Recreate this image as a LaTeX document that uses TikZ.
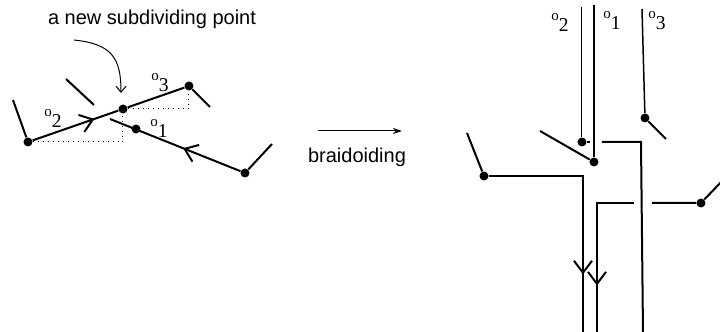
\documentclass[tikz,border=0pt]{standalone}
\usepackage{fontspec}
\setmainfont{Liberation Sans}
\newfontfamily\strandfont{Liberation Serif}
\usetikzlibrary{arrows.meta, decorations.markings}

\newcommand{\olbl}[1]{{\strandfont\raisebox{5.5pt}{\fontsize{7.5}{8}\selectfont o}\fontsize{9.8}{10}\selectfont #1}}

\tikzset{
    dot/.style={circle, fill, inner sep=0pt, minimum size=4.5pt},
    strand/.style={line width=1pt},
    thinstrand/.style={line width=0.5pt},
    guide/.style={dotted, line width=0.5pt},
    lbl/.style={inner sep=0pt},
    barb/.style={postaction={decorate, decoration={markings,
        mark=at position #1 with {\arrow{Straight Barb[length=6pt, width=9pt]}}}}}
}

\begin{document}
\begin{tikzpicture}[x=0.5pt, y=-0.5pt]
    \useasboundingbox (0,0) rectangle (720,332);

    \node[dot] (a) at (28,142) {};
    \node[dot] (p) at (123,109) {};
    \node[dot] (b) at (189,86) {};
    \node[dot] (c) at (136,129) {};
    \node[dot] (d) at (245,173) {};
    \coordinate (a1) at (13,100);
    \coordinate (b1) at (210,107);
    \coordinate (d1) at (272,144);
    \coordinate (u1) at (66,79);
    \coordinate (u2) at (94,105);
    \coordinate (c0) at (110,119);

    \draw[strand] (a1) -- (a);
    \draw[strand, barb=0.72] (a) -- (p);
    \draw[strand] (p) -- (b) -- (b1);
    \draw[strand] (u1) -- (u2);
    \draw[strand, barb=0.44] (d) -- (c0);
    \draw[strand] (d) -- (d1);
    \draw[guide] (a) -- (a -| p) -- (p);
    \draw[guide] (p) -- (p -| b) -- (b);

    \node[lbl] (o2l) at (53,118) {\olbl{2}};
    \node[lbl] (o3l) at (160,83) {\olbl{3}};
    \node[lbl] (o1l) at (159,128) {\olbl{1}};

    \node (note) at (152,19) {a new subdividing point};
    \coordinate (n0) at (74,40);
    \coordinate (n1) at (121,93);
    \draw[line width=0.5pt, -{Straight Barb[length=3pt, width=5pt]}] (n0) .. controls (112,44) and (121,58) .. (n1);

    \coordinate (m0) at (318,131);
    \coordinate (m1) at (402,131);
    \draw[line width=0.5pt, -{Stealth[length=4.5pt, width=3pt]}] (m0) -- (m1);
    \node (lab) at (357,157) {braidoiding};

    \node[dot] (e) at (582,142) {};
    \node[dot] (g) at (594,162) {};
    \node[dot] (f) at (645,118) {};
    \node[dot] (h) at (484,176) {};
    \node[dot] (i) at (701,203) {};
    \coordinate (e0) at (582,7);
    \coordinate (e1) at (590,142);
    \coordinate (g0) at (594,5);
    \coordinate (g1) at (540,131);
    \coordinate (f0) at (642,9);
    \coordinate (f1) at (666,139);
    \coordinate (k0) at (602,142);
    \coordinate (k1) at (641,142);
    \coordinate (k2) at (643,332);
    \coordinate (h1) at (467,133);
    \coordinate (h2) at (583,176);
    \coordinate (h3) at (583,332);
    \coordinate (j0) at (634,203);
    \coordinate (j1) at (597,203);
    \coordinate (j2) at (597,332);
    \coordinate (i0) at (652,203);
    \coordinate (i1) at (724,179);

    \draw[thinstrand] (e0) -- (e);
    \draw[strand] (e) -- (e1);
    \draw[strand] (k0) -- (k1) -- (k2);
    \draw[strand] (g0) -- (g);
    \draw[strand] (g1) -- (g);
    \draw[line width=0.75pt] (f0) -- (f);
    \draw[strand] (f) -- (f1);
    \draw[strand] (h1) -- (h);
    \draw[strand, barb=0.77] (h) -- (h2) -- (h3);
    \draw[strand, barb=0.72] (j0) -- (j1) -- (j2);
    \draw[strand] (i0) -- (i) -- (i1);

    \node[lbl] (o2r) at (560,22) {\olbl{2}};
    \node[lbl] (o1r) at (612,20) {\olbl{1}};
    \node[lbl] (o3r) at (657,21) {\olbl{3}};
\end{tikzpicture}
\end{document}
